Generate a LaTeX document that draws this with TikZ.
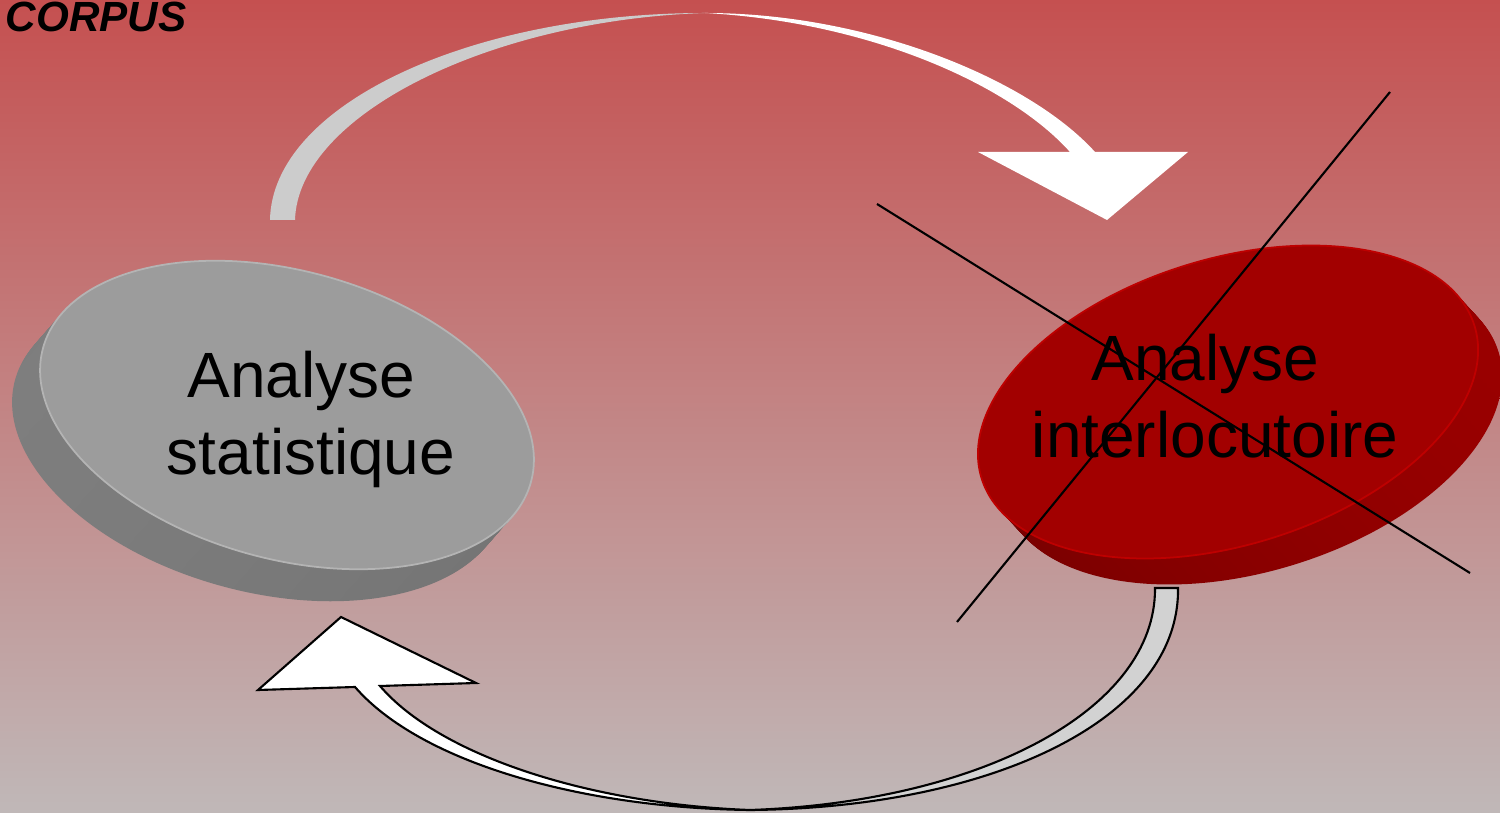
\documentclass[tikz,border=0pt]{standalone}
\usepackage{fontspec}
\setmainfont{Liberation Sans}
\usepackage{tikz}
\usetikzlibrary{calc}

\definecolor{bgtop}{HTML}{C55050}
\definecolor{bgmid}{HTML}{C49494}
\definecolor{bgbot}{HTML}{C0B8B8}
\definecolor{statface}{HTML}{9C9C9C}
\definecolor{statrim}{HTML}{B4B4B4}
\definecolor{statleft}{HTML}{7E7E7E}
\definecolor{statmid}{HTML}{555555}
\definecolor{statright}{HTML}{747474}
\definecolor{ilcface}{HTML}{A20000}
\definecolor{ilcrim}{HTML}{BE0000}
\definecolor{ilcleft}{HTML}{780000}
\definecolor{ilcmid}{HTML}{5C0000}
\definecolor{ilcright}{HTML}{9A0000}
\definecolor{ribbongrey}{HTML}{CCCCCC}
\definecolor{loopgrey}{HTML}{D2D2D2}

\begin{document}
\begin{tikzpicture}[x=0.01cm,y=-0.01cm]

\def\lwcross{0.6pt}
\def\lwloop{0.6pt}
\def\nslices{30}
\def\lshift{5.5pt}

\tikzset{
pics/disk/.style n args={6}{
code = {
	\foreach \i in {\nslices,...,1}
		\shade[left color=#6left,middle color=#6mid,right color=#6right,shift={(#4*\i/\nslices,#5*\i/\nslices)},rotate=#1]
			(0,0) ellipse [x radius=#2,y radius=#3];
	\draw[fill=#6face,draw=#6rim,line width=0.5pt,rotate=#1] (0,0) ellipse [x radius=#2,y radius=#3];
}
},
disklabel/.style = {align=center,inner sep=0pt,font=\fontsize{18.2}{21.9}\selectfont},
ribbonback/.style = {fill=ribbongrey},
ribbonfront/.style = {fill=white},
loopback/.style = {fill=loopgrey,draw=black,line width=\lwloop,line join=miter},
loopfront/.style = {fill=white,draw=black,line width=\lwloop,line join=miter},
crossline/.style = {draw=black,line width=\lwcross}
}

% background
\useasboundingbox (0,0) rectangle (1500,813);
\shade[top color=bgtop,middle color=bgmid,bottom color=bgbot] (0,0) rectangle (1500,813);

\node[anchor=base west,inner sep=0pt,font=\fontsize{12}{14}\selectfont\bfseries\itshape] (corpus) at (5,32) {CORPUS};

% upper arrow
\fill[ribbonback] (270,220) .. controls (272,105) and (470,13) .. (705,13)
	.. controls (490,20) and (298,115) .. (295,220) -- cycle;
\fill[ribbonfront] (705,13) .. controls (870,13) and (1030,80) .. (1095,152)
	-- (1188,152) -- (1107,220) -- (978,152) -- (1070,152)
	.. controls (1010,85) and (870,22) .. (705,13) -- cycle;

% lower arrow
\filldraw[loopback] (1178,588) .. controls (1180,720) and (990,808) .. (750,810)
	.. controls (980,802) and (1156,710) .. (1155,588) -- cycle;
\filldraw[loopfront] (750,810) .. controls (580,808) and (420,762) .. (355,687)
	-- (258,690) -- (341,617) -- (476,683) -- (380,686)
	.. controls (440,756) and (590,804) .. (750,810) -- cycle;

% disks
\pic at (287,415) {disk={-15.4}{253}{144}{-28}{32}{stat}};
\pic at (1228,402) {disk={17.2}{258}{143}{24}{26}{ilc}};

\node[disklabel] (stat) at (311,419) {Analyse\hspace*{\lshift}\\statistique};
\node[disklabel] (ilc) at (1215,396) {Analyse\hspace*{\lshift}\\interlocutoire};

% crossed out
\coordinate (c1a) at (877,204);
\coordinate (c1b) at (1470,573);
\coordinate (c2a) at (1390,92);
\coordinate (c2b) at (957,622);
\draw[crossline] (c1a) -- (c1b);
\draw[crossline] (c2a) -- (c2b);

\end{tikzpicture}
\end{document}
